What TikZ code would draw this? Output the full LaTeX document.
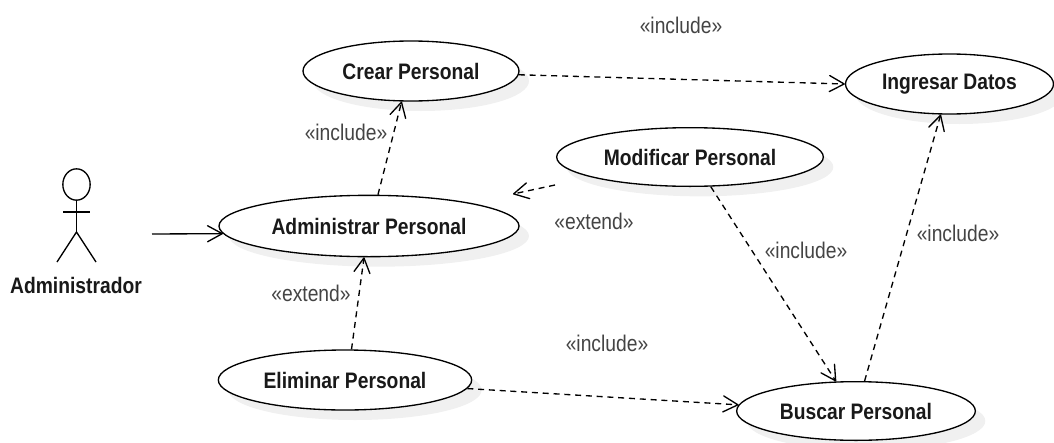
\documentclass[tikz,border=0pt]{standalone}
\usepackage{fontspec}
\setmainfont{Liberation Sans}
\newfontfamily\narrowbold[FakeStretch=0.86]{Liberation Sans Bold}
\newfontfamily\narrowreg[FakeStretch=0.85]{Liberation Sans}
\usetikzlibrary{shapes.geometric,arrows.meta,shadows}
\definecolor{shadowgray}{HTML}{F0F0F0}
\definecolor{labelgray}{HTML}{444444}
\tikzset{
  x=0.75pt,y=-0.75pt,
  usecase/.style={ellipse,draw=black,fill=white,line width=1pt,inner sep=0pt,
    font=\narrowbold\fontsize{16.8}{18}\selectfont,text=black!90,
    drop shadow={shadow xshift=7.5pt,shadow yshift=-7.5pt,fill=shadowgray,opacity=1}},
  stereo/.style={font=\narrowreg\fontsize{17}{18}\selectfont,text=labelgray,inner sep=0pt},
  dep/.style={draw=black,line width=1pt,dash pattern=on 4.5pt off 3.6pt,
    -{Straight Barb[length=11pt,width=12pt,line width=1pt,round]}},
  assoc/.style={draw=black,line width=1pt,
    -{Straight Barb[length=11pt,width=12pt,line width=1pt,round]}},
  limb/.style={draw=black,line width=1pt},
}
\begin{document}
\begin{tikzpicture}
\useasboundingbox (0,0) rectangle (1054,443);
\node[usecase,minimum width=162pt,minimum height=45pt] (crear) at (411,71) {Crear Personal};
\node[usecase,minimum width=156pt,minimum height=45pt] (ingresar) at (949.5,84) {Ingresar Datos};
\node[usecase,minimum width=200pt,minimum height=44pt] (modificar) at (690,157) {Modificar Personal};
\node[usecase,minimum width=225pt,minimum height=46pt] (admin) at (369,226) {Administrar Personal};
\node[usecase,minimum width=190pt,minimum height=45pt] (eliminar) at (345,380) {Eliminar Personal};
\node[usecase,minimum width=179pt,minimum height=44pt] (buscar) at (856,411) {Buscar Personal};

\node[ellipse,draw=black,line width=1pt,minimum width=20.5pt,minimum height=23.5pt,inner sep=0pt] (head) at (76.5,184.5) {};
\coordinate (armL) at (63,212);
\coordinate (armR) at (90,212);
\coordinate (hip) at (76.5,232);
\coordinate (legL) at (57,262);
\coordinate (legR) at (96,262);
\draw[limb] (head.south) -- (hip);
\draw[limb] (armL) -- (armR);
\draw[limb] (legL) -- (hip) -- (legR);
\node[font=\narrowbold\fontsize{16.8}{18}\selectfont,text=black!90,inner sep=0pt] (actorlabel) at (76,285) {Administrador};

\coordinate (actorstart) at (152,234);
\coordinate (modstart) at (555,185);
\coordinate (modend) at (513,194);
\draw[assoc] (actorstart) -- (admin.183);
\draw[dep] (admin.74) -- (crear.253);
\draw[dep] (crear.358) -- (ingresar.180);
\draw[dep] (modstart) -- (modend);
\draw[dep] (eliminar.78) -- (admin.261);
\draw[dep] (eliminar.356) -- (buscar.177);
\draw[dep] (modificar.305) -- (buscar.124);
\draw[dep] (buscar.74) -- (ingresar.254);

\node[stereo] (l1) at (681,25) {«include»};
\node[stereo] (l2) at (346,132) {«include»};
\node[stereo] (l3) at (806,250) {«include»};
\node[stereo] (l4) at (958,233) {«include»};
\node[stereo] (l5) at (607,343) {«include»};
\node[stereo] (l6) at (311,293) {«extend»};
\node[stereo] (l7) at (594,221) {«extend»};
\end{tikzpicture}
\end{document}
